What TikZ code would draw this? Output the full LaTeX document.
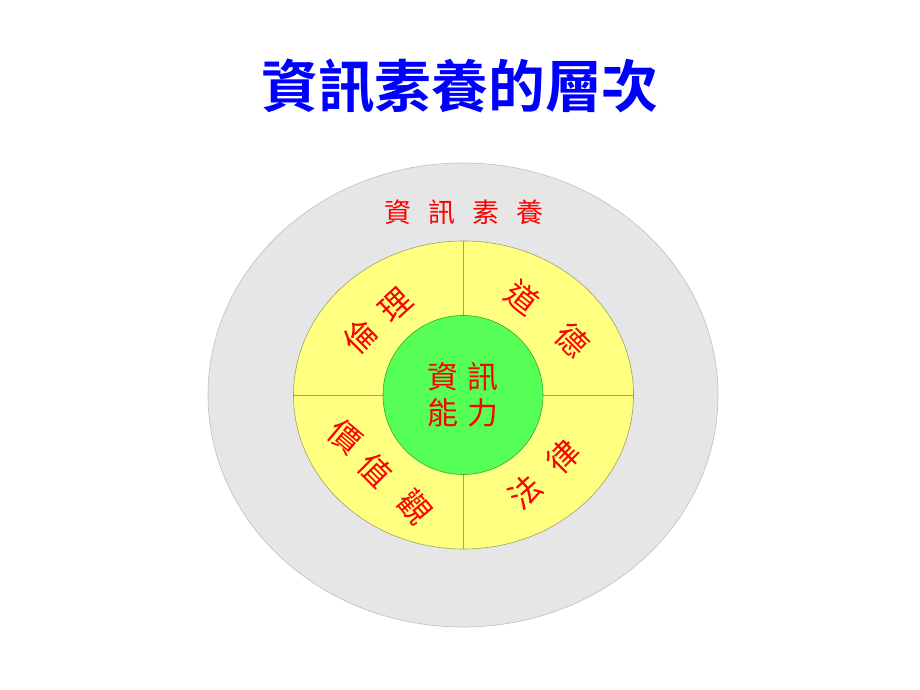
\documentclass[tikz,border=0pt]{standalone}
\usepackage{fontspec}
\usetikzlibrary{shapes.geometric}
\newfontfamily\cjk{Noto Sans CJK TC}
\newfontfamily\cjkbold{Noto Sans CJK TC Bold}
\definecolor{ringgray}{HTML}{E6E6E6}
\definecolor{ringyellow}{HTML}{FFFF80}
\definecolor{ringgreen}{HTML}{55FF55}
\definecolor{splitline}{HTML}{A0A068}
\begin{document}
\begin{tikzpicture}[line join=bevel,
  ring/.style={ellipse,inner sep=0pt,line width=0.6bp},
  qchar/.style={text=red,font=\cjk\fontsize{32}{32}\selectfont,inner sep=0pt}]
\useasboundingbox [fill=white] (0bp,0bp) rectangle (920bp,690bp);
%%
\node (node_title) at (460.0bp,604.0bp) [text=blue,font=\cjkbold\fontsize{57}{57}\selectfont] {資訊素養的層次};
%
\node (node_outer) at (463.0bp,295.0bp) [ring,draw=black!25,fill=ringgray,minimum width=510bp,minimum height=464bp] {};
  \node (node_mid) at (463.5bp,295.0bp) [ring,draw=splitline,fill=ringyellow,minimum width=340bp,minimum height=308bp] {};
  \draw [splitline,line width=0.8bp] (node_mid.north) -- (node_mid.south);
  \draw [splitline,line width=0.8bp] (node_mid.west) -- (node_mid.east);
  \node (node_core) at (463.0bp,295.0bp) [ring,draw=black!35!ringgreen,fill=ringgreen,minimum width=160bp,minimum height=159bp] {};
%
\node (node_outer_text) at (464.0bp,478.0bp) [text=red,font=\cjk\fontsize{27}{27}\selectfont] {資\hspace{17bp}訊\hspace{17bp}素\hspace{17bp}養};
  \node (node_core_text) at (463.0bp,295.0bp) [text=red,align=center,font=\cjk\fontsize{31}{36}\selectfont] {資\hspace{10bp}訊\\能\hspace{10bp}力};
%
\node (node_lun) at (360.0bp,353.0bp) [qchar,rotate=45] {倫};
  \node (node_li) at (395.0bp,385.0bp) [qchar,rotate=42] {理};
  \node (node_dao) at (522.0bp,392.0bp) [qchar,rotate=-38] {道};
  \node (node_de) at (572.0bp,350.0bp) [qchar,rotate=-45] {德};
  \node (node_jia) at (345.0bp,253.0bp) [qchar,rotate=-40] {價};
  \node (node_zhi) at (375.0bp,220.0bp) [qchar,rotate=-45] {值};
  \node (node_guan) at (415.0bp,183.0bp) [qchar,rotate=-50] {觀};
  \node (node_fa) at (525.0bp,198.0bp) [qchar,rotate=42] {法};
  \node (node_lv) at (563.0bp,233.0bp) [qchar,rotate=45] {律};
%
\end{tikzpicture}
\end{document}
